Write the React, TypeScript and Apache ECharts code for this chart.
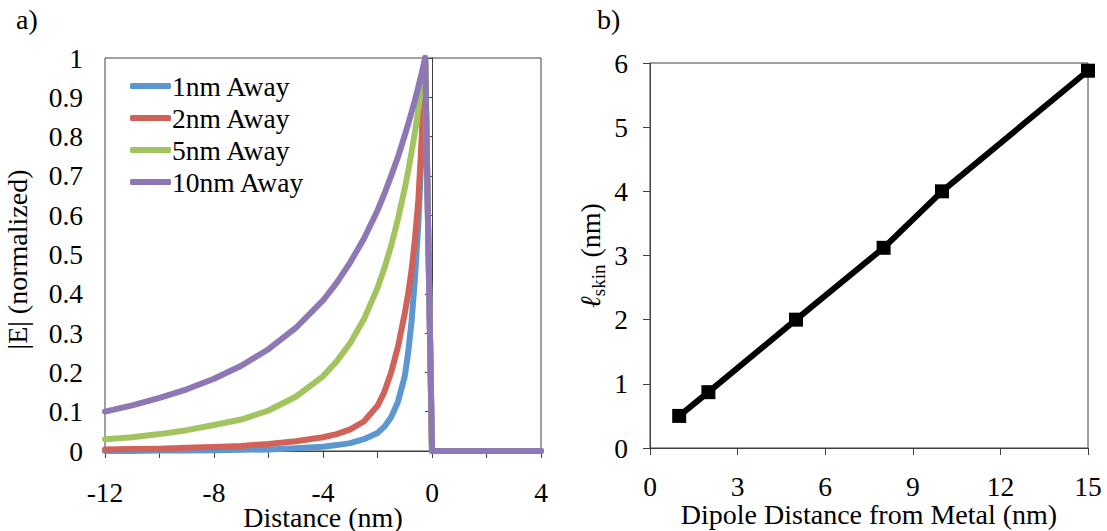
import React, { useEffect, useRef } from "react";
import * as echarts from "echarts";

// ---- Data (a): normalized |E| vs distance ----
const xDist = [-12, -11, -10, -9, -8, -7, -6, -5, -4, -3.5, -3, -2.5, -2, -1.75, -1.5, -1.25, -1, -0.875, -0.75, -0.625, -0.5, -0.375, -0.25, 0, 4];
const e1nm = [0, 0, 0.001, 0.001, 0.002, 0.003, 0.004, 0.007, 0.011, 0.015, 0.02, 0.03, 0.046, 0.062, 0.086, 0.125, 0.19, 0.25, 0.33, 0.44, 0.58, 0.77, 1, 0, 0];
const e2nm = [0.004, 0.005, 0.006, 0.008, 0.01, 0.013, 0.018, 0.025, 0.035, 0.043, 0.055, 0.075, 0.115, 0.15, 0.2, 0.265, 0.35, 0.4, 0.46, 0.54, 0.64, 0.8, 1, 0, 0];
const e5nm = [0.03, 0.035, 0.043, 0.053, 0.066, 0.08, 0.103, 0.138, 0.19, 0.228, 0.275, 0.335, 0.415, 0.465, 0.522, 0.59, 0.668, 0.712, 0.76, 0.812, 0.87, 0.932, 1, 0, 0];
const e10nm = [0.1, 0.116, 0.135, 0.157, 0.184, 0.217, 0.259, 0.313, 0.383, 0.428, 0.48, 0.54, 0.612, 0.654, 0.7, 0.748, 0.803, 0.832, 0.862, 0.893, 0.927, 0.962, 1, 0, 0];
const seriesNames = ["1nm Away", "2nm Away", "5nm Away", "10nm Away"];
const seriesColors = ["#5B97D0", "#D0625A", "#A2C45E", "#8E77B5"];

// ---- Data (b): skin length vs dipole distance ----
const dipoleDist = [1, 2, 5, 8, 10, 15];
const skinLength = [0.5, 0.87, 2.0, 3.12, 4.0, 5.88];

const FONT = "'Liberation Serif', 'Times New Roman', Times, serif";
const AXIS_COLOR = "#404040";

function pairs(xs: number[], ys: number[]) {
  return xs.map((x, i) => [x, ys[i]]);
}

export default function App() {
  const ref = useRef<HTMLDivElement>(null);

  useEffect(() => {
    if (!ref.current) return;
    const chart = echarts.init(ref.current, null, { renderer: "svg" });

    const tickLabel = { fontFamily: FONT, fontSize: 27.5, color: "#000", margin: 22 };
    const axisLine = { show: true, lineStyle: { color: AXIS_COLOR, width: 1 } };
    const axisTick = { show: true, length: 7, lineStyle: { color: AXIS_COLOR, width: 1 } };
    const nameStyle = { fontFamily: FONT, fontSize: 28, color: "#000" };

    const eSeries = [e1nm, e2nm, e5nm, e10nm];

    chart.setOption({
      animation: false,
      backgroundColor: "#fff",
      textStyle: { fontFamily: FONT },
      grid: [
        { left: 105, top: 58, width: 436, height: 393, show: true, borderColor: AXIS_COLOR, borderWidth: 1, backgroundColor: "transparent", containLabel: false, outerBoundsMode: "none" },
        { left: 650, top: 63, width: 438, height: 385, show: true, borderColor: AXIS_COLOR, borderWidth: 1, backgroundColor: "transparent", containLabel: false, outerBoundsMode: "none" },
      ],
      legend: {
        data: seriesNames,
        orient: "vertical",
        left: 125,
        top: 67,
        icon: "roundRect",
        itemWidth: 41,
        itemHeight: 6,
        itemGap: 4,
        textStyle: { fontFamily: FONT, fontSize: 27.5, color: "#000", lineHeight: 28, padding: [0, 0, 0, -4] },
      },
      graphic: [
        { type: "text", left: 16, top: 5, style: { text: "a)", fontFamily: FONT, fontSize: 28, fill: "#000" } },
        { type: "text", left: 597, top: 5, style: { text: "b)", fontFamily: FONT, fontSize: 28, fill: "#000" } },
      ],
      xAxis: [
        {
          gridIndex: 0,
          type: "value",
          min: -12,
          max: 4,
          interval: 2,
          axisLine,
          axisTick,
          splitLine: { show: false },
          axisLabel: { ...tickLabel, lineHeight: 22, margin: 30, formatter: (v: number) => (v % 4 === 0 ? String(v) : "") },
          name: "Distance (nm)",
          nameLocation: "middle",
          nameGap: 53,
          nameMoveOverlap: false,
          nameTextStyle: { ...nameStyle, lineHeight: 26 },
        },
        {
          gridIndex: 1,
          type: "value",
          min: 0,
          max: 15,
          interval: 3,
          axisLine,
          axisTick,
          splitLine: { show: false },
          axisLabel: { ...tickLabel, lineHeight: 22, margin: 27 },
          name: "Dipole Distance from Metal (nm)",
          nameLocation: "middle",
          nameGap: 53,
          nameMoveOverlap: false,
          nameTextStyle: { ...nameStyle, lineHeight: 26 },
        },
      ],
      yAxis: [
        {
          gridIndex: 0,
          type: "value",
          min: 0,
          max: 1,
          interval: 0.1,
          axisLine,
          axisTick,
          splitLine: { show: false },
          axisLabel: tickLabel,
          name: "|E| (normalized)",
          nameLocation: "middle",
          nameGap: 74,
          nameMoveOverlap: false,
          nameTextStyle: { ...nameStyle, padding: [0, 0, 0, -10] },
        },
        {
          gridIndex: 1,
          type: "value",
          min: 0,
          max: 6,
          interval: 1,
          axisLine,
          axisTick,
          splitLine: { show: false },
          axisLabel: tickLabel,
          name: "{l|ℓ}{s|skin}{n| (nm)}",
          nameLocation: "middle",
          nameGap: 42,
          nameMoveOverlap: false,
          nameTextStyle: {
            ...nameStyle,
            rich: {
              l: { fontFamily: FONT, fontSize: 28, fontStyle: "italic", color: "#000", lineHeight: 36, verticalAlign: "middle" },
              s: { fontFamily: FONT, fontSize: 19, color: "#000", lineHeight: 36, verticalAlign: "bottom" },
              n: { fontFamily: FONT, fontSize: 28, color: "#000", lineHeight: 36, verticalAlign: "middle" },
            },
          },
        },
      ],
      series: [
        ...eSeries.map((ys, i) => ({
          name: seriesNames[i],
          type: "line",
          xAxisIndex: 0,
          yAxisIndex: 0,
          data: pairs(xDist, ys),
          showSymbol: false,
          symbol: "none",
          clip: false,
          lineStyle: { width: 6, color: seriesColors[i], cap: "round", join: "round" },
          itemStyle: { color: seriesColors[i] },
          z: 2 + i,
        })),
        {
          name: "skin",
          type: "line",
          xAxisIndex: 1,
          yAxisIndex: 1,
          data: pairs(dipoleDist, skinLength),
          symbol: "rect",
          symbolSize: 14,
          clip: false,
          lineStyle: { width: 6, color: "#000" },
          itemStyle: { color: "#000" },
        },
      ],
    });

    return () => chart.dispose();
  }, []);

  return (
    <div
      ref={ref}
      style={{ position: "fixed", left: 0, top: 0, width: 1107, height: 531, background: "#fff" }}
    />
  );
}
